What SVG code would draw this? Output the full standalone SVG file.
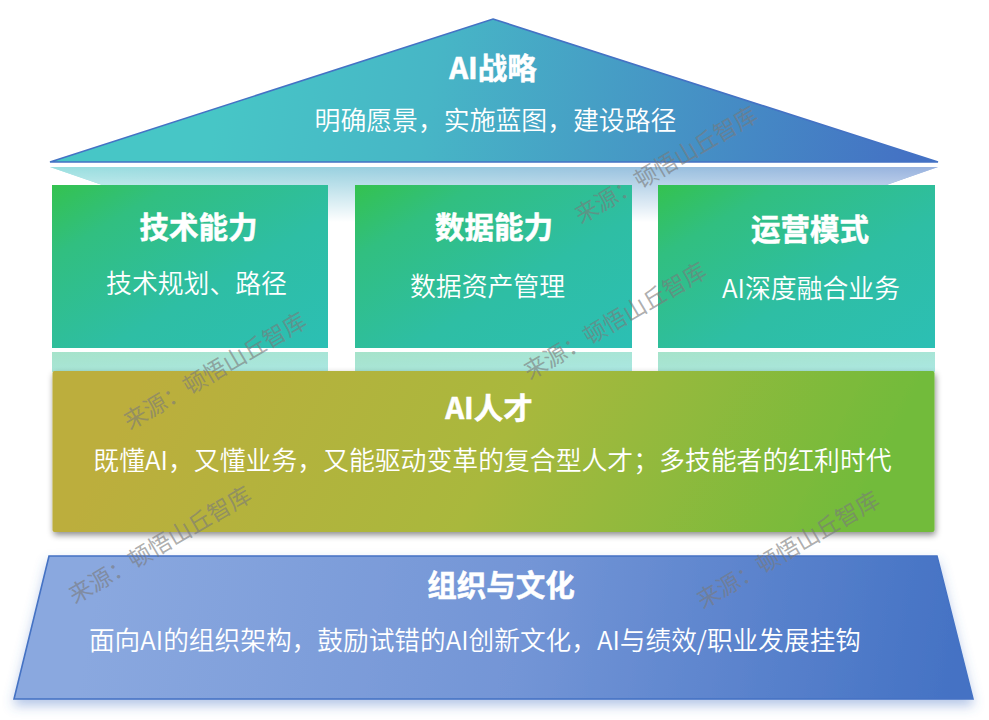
<svg xmlns="http://www.w3.org/2000/svg" width="989" height="720" viewBox="0 0 989 720">
<style>
text{font-family:"Noto Sans CJK SC","Noto Sans",sans-serif;fill:#fff;text-anchor:middle}
.t{font-size:29.500px;font-weight:700;stroke:#fff;stroke-width:.5px}
.s{font-size:25.850px;font-weight:350}
.n{font-size:25.700px}
.w{font-size:23px;fill:#7a7a7a;fill-opacity:.62;font-weight:400}
</style>
<defs>
<linearGradient id="roof" gradientUnits="userSpaceOnUse" x1="220" y1="90" x2="900" y2="210"><stop offset="0" stop-color="#47c6c6"/><stop offset=".3" stop-color="#47b6c6"/><stop offset="1" stop-color="#4472c4"/></linearGradient>
<linearGradient id="roofR" gradientUnits="userSpaceOnUse" x1="50" y1="167" x2="938" y2="185"><stop offset="0" stop-color="#47c6c6"/><stop offset="1" stop-color="#4472c4"/></linearGradient>
<linearGradient id="fade" gradientUnits="userSpaceOnUse" x1="0" y1="167" x2="0" y2="222"><stop offset="0" stop-color="#fff" stop-opacity=".45"/><stop offset="1" stop-color="#fff" stop-opacity="1"/></linearGradient>
<linearGradient id="box" x1="0" y1="0" x2="1" y2="1"><stop offset="0" stop-color="#34c24f"/><stop offset=".22" stop-color="#31bf80"/><stop offset=".6" stop-color="#2ebea4"/><stop offset="1" stop-color="#2cbfb4"/></linearGradient>
<linearGradient id="mir" x1="0" y1="0" x2="1" y2="1"><stop offset="0" stop-color="#a6e3ca"/><stop offset="1" stop-color="#aae7e2"/></linearGradient>
<linearGradient id="tal" gradientUnits="userSpaceOnUse" x1="180" y1="300" x2="810" y2="610"><stop offset="0" stop-color="#bcae3d"/><stop offset=".5" stop-color="#a9b83e"/><stop offset="1" stop-color="#72bb3a"/></linearGradient>
<linearGradient id="fnd" gradientUnits="userSpaceOnUse" x1="100" y1="560" x2="950" y2="700"><stop offset="0" stop-color="#8aa8df"/><stop offset=".5" stop-color="#7395d6"/><stop offset="1" stop-color="#4472c4"/></linearGradient>
<filter id="sh" x="-3%" y="-5%" width="106%" height="115%"><feDropShadow dx="1" dy="3" stdDeviation="3" flood-color="#000" flood-opacity=".45"/></filter>
<filter id="gl" x="-4%" y="-8%" width="108%" height="125%"><feDropShadow dx="0" dy="6" stdDeviation="6" flood-color="#4472c4" flood-opacity=".4"/></filter>
</defs>
<rect width="989" height="720" fill="#fff"/>
<g id="roof-reflection">
<polygon points="50,167 938,167 780,222 210,222" fill="url(#roofR)"/>
<polygon points="50,167 938,167 780,222 210,222" fill="url(#fade)"/>
</g>
<g id="strategy">
<polygon points="493,19 938,162 50,162" fill="url(#roof)" stroke="#4472c4" stroke-width="1.6" stroke-linejoin="miter"/>
<text class="t" x="493" y="79">AI战略</text>
<text class="s" x="495.500" y="130">明确愿景，实施蓝图，建设路径</text>
</g>
<g id="tech">
<rect x="52" y="352" width="276" height="20" fill="url(#mir)"/>
<rect x="52" y="185" width="276" height="163" fill="url(#box)"/>
<text class="t" x="198.500" y="238">技术能力</text>
<text class="s" x="196.500" y="293">技术规划、路径</text>
</g>
<g id="data">
<rect x="355" y="352" width="277" height="20" fill="url(#mir)"/>
<rect x="355" y="185" width="277" height="163" fill="url(#box)"/>
<text class="t" x="494" y="238">数据能力</text>
<text class="s" x="487.500" y="296">数据资产管理</text>
</g>
<g id="ops">
<rect x="658" y="352" width="277" height="20" fill="url(#mir)"/>
<rect x="658" y="185" width="277" height="163" fill="url(#box)"/>
<text class="t" x="810" y="240">运营模式</text>
<text class="s" x="811" y="298">AI深度融合业务</text>
</g>
<g id="talent">
<rect x="52.500" y="371" width="882" height="161" rx="2" fill="url(#tal)" filter="url(#sh)"/>
<text class="t" x="489" y="419">AI人才</text>
<text class="s" x="492.500" y="470">既懂AI，又懂业务，又能驱动变革的复合型人才；多技能者的红利时代</text>
</g>
<g id="culture">
<polygon points="49,556 937,556 973,699 14,699" fill="url(#fnd)" stroke="#4472c4" stroke-width="1.6" filter="url(#gl)"/>
<text class="t" x="501" y="596">组织与文化</text>
<text class="s n" x="475" y="650">面向AI的组织架构，鼓励试错的AI创新文化，AI与绩效/职业发展挂钩</text>
</g>
<g id="watermarks">
<text class="w" transform="translate(670,172) rotate(-30.400)">来源：顿悟山丘智库</text>
<text class="w" transform="translate(619,328) rotate(-30.400)">来源：顿悟山丘智库</text>
<text class="w" transform="translate(219,378) rotate(-30.400)">来源：顿悟山丘智库</text>
<text class="w" transform="translate(164,552) rotate(-30.400)">来源：顿悟山丘智库</text>
<text class="w" transform="translate(792,557) rotate(-30.400)">来源：顿悟山丘智库</text>
</g>
</svg>
